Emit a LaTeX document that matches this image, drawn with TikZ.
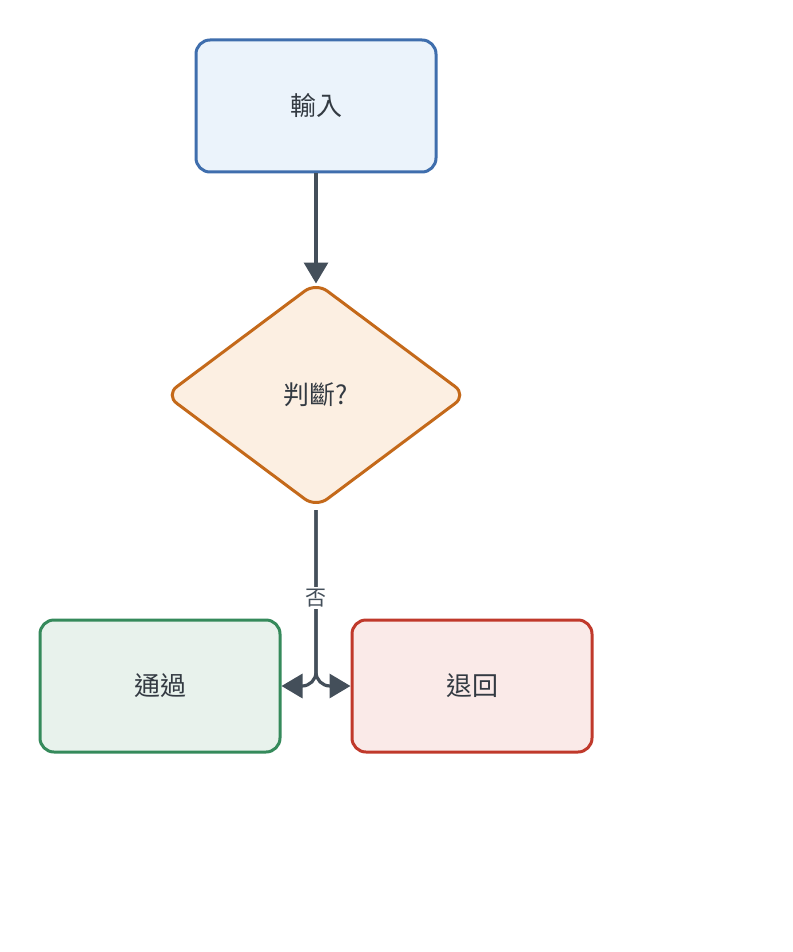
\documentclass[tikz,border=0pt]{standalone}
\usepackage{fontspec}
\setmainfont{Noto Sans CJK TC}
\usetikzlibrary{shapes.geometric,arrows.meta}
\definecolor{txt}{HTML}{333A42}
\definecolor{edgec}{HTML}{444F5A}
\definecolor{bluef}{HTML}{EBF3FB}
\definecolor{bluel}{HTML}{3F6EAD}
\definecolor{orf}{HTML}{FCEFE2}
\definecolor{orl}{HTML}{C4691A}
\definecolor{grf}{HTML}{E8F2EC}
\definecolor{grl}{HTML}{358A5B}
\definecolor{rdf}{HTML}{FAEAE8}
\definecolor{rdl}{HTML}{C0392B}
\tikzset{
  boxnode/.style={draw, line width=3pt, rounded corners=14pt, minimum width=240pt, minimum height=132pt, inner sep=0pt, text=txt, font=\fontsize{26}{30}\selectfont},
  dianode/.style={draw, shape=diamond, line width=3pt, rounded corners=14pt, minimum width=302pt, minimum height=226pt, aspect=1.336, inner sep=0pt, text=txt, font=\fontsize{26}{30}\selectfont},
  edge/.style={draw=edgec, line width=3.2pt},
  tip/.style={-{Triangle[length=21pt,width=24pt]}},
  lbl/.style={fill=white, text=edgec, inner sep=2pt, font=\fontsize{21}{24}\selectfont}
}
\begin{document}
\begin{tikzpicture}[x=1pt,y=-1pt]
\useasboundingbox[fill=white] (0,0) rectangle (792,952);
\node[boxnode, fill=bluef, draw=bluel] (in) at (316,106) {輸入};
\node[dianode, fill=orf, draw=orl] (d) at (316,395) {判斷?};
\node[boxnode, fill=grf, draw=grl] (pass) at (160,686) {通過};
\node[boxnode, fill=rdf, draw=rdl] (ret) at (472,686) {退回};
\coordinate (top) at (316,510);
\coordinate (s) at (316,672);
\draw[edge, tip] (in.south) -- ([yshift=-3pt]d.north);
\draw[edge, tip] (top) -- (s) to[out=-90,in=180] (330,686) -- (ret.west);
\draw[edge, tip] (top) -- (s) to[out=-90,in=0] (302,686) -- (pass.east);
\node[lbl] (no) at (316,598) {否};
\end{tikzpicture}
\end{document}
